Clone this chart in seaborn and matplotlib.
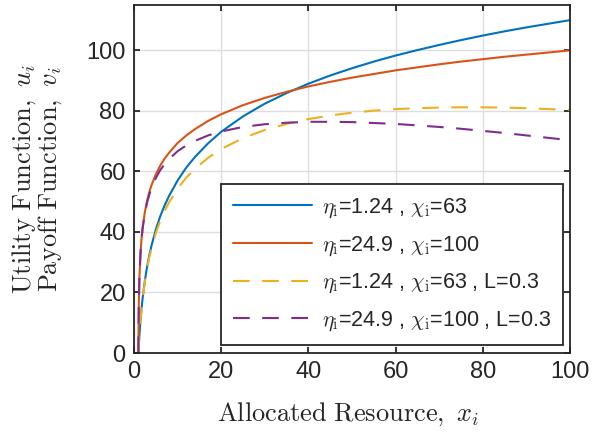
import numpy as np
import pandas as pd
import matplotlib
matplotlib.use("Agg")
import matplotlib.pyplot as plt
import seaborn as sns

# ---- data ----
x_vals = [1, 1.1, 1.25, 1.5, 1.75, 2, 2.5, 3, 3.5, 4, 5, 6, 7, 8, 10, 12, 14, 17,
          20, 25, 30, 35, 40, 45, 50, 55, 60, 65, 70, 75, 80, 85, 90, 95, 100]
u_eta124 = [0, 2.7, 6.2, 11.0, 15.0, 18.4, 24.0, 28.5, 32.2, 35.4, 40.8, 45.1, 48.7,
            51.8, 57.0, 61.3, 64.8, 69.3, 73.1, 78.2, 82.4, 85.9, 89.0, 91.7, 94.1,
            96.3, 98.3, 100.1, 101.8, 103.4, 104.9, 106.3, 107.6, 108.8, 110.0]
u_eta249 = [0, 16.0, 25.3, 33.3, 38.1, 41.7, 46.7, 50.3, 53.1, 55.4, 59.0, 61.9, 64.2,
            66.1, 69.4, 71.9, 74.0, 76.7, 78.9, 81.9, 84.3, 86.3, 88.1, 89.6, 91.0,
            92.2, 93.4, 94.4, 95.4, 96.3, 97.1, 97.9, 98.6, 99.3, 100.0]
v_eta124 = [0, 2.6, 6.1, 10.9, 14.8, 18.1, 23.5, 27.9, 31.5, 34.5, 39.6, 43.6, 46.9,
            49.7, 54.3, 58.0, 60.9, 64.5, 67.4, 71.0, 73.7, 75.7, 77.3, 78.5, 79.4,
            80.1, 80.6, 80.9, 81.1, 81.2, 81.2, 81.1, 80.9, 80.6, 80.3]
v_eta249 = [0, 16.0, 25.2, 33.1, 37.9, 41.4, 46.2, 49.7, 52.3, 54.5, 57.8, 60.4, 62.4,
            64.0, 66.7, 68.6, 70.1, 71.9, 73.2, 74.7, 75.6, 76.1, 76.4, 76.4, 76.3,
            76.0, 75.7, 75.2, 74.7, 74.1, 73.4, 72.7, 71.9, 71.1, 70.3]
series_labels = [r'$\eta_{\mathrm{i}}$=1.24 , $\chi_{\mathrm{i}}$=63',
                 r'$\eta_{\mathrm{i}}$=24.9 , $\chi_{\mathrm{i}}$=100',
                 r'$\eta_{\mathrm{i}}$=1.24 , $\chi_{\mathrm{i}}$=63 , L=0.3',
                 r'$\eta_{\mathrm{i}}$=24.9 , $\chi_{\mathrm{i}}$=100 , L=0.3']
x_ticks = [0, 20, 40, 60, 80, 100]
y_ticks = [0, 20, 40, 60, 80, 100]

colors = ['#0072BD', '#D95319', '#EDB120', '#7E2F8E']

sns.set_theme(style="ticks")
plt.rcParams['font.family'] = ['Liberation Sans', 'DejaVu Sans']
plt.rcParams['mathtext.fontset'] = 'cm'

fig = plt.figure(figsize=(5.93, 4.33), dpi=100)
ax = fig.add_axes([134/593, 1 - 353/433, 436/593, 348/433])

all_y = [u_eta124, u_eta249, v_eta124, v_eta249]
styles = ['-', '-', (0, (8, 6)), (0, (8, 6))]
for yv, lab, c, ls in zip(all_y, series_labels, colors, styles):
    df = pd.DataFrame({'x': x_vals, 'y': yv})
    sns.lineplot(data=df, x='x', y='y', ax=ax, color=c, linewidth=1.5,
                 linestyle=ls, label=lab, estimator=None, sort=False)

ax.set_xlim(0, 100)
ax.set_ylim(0, 115)
ax.set_xticks(x_ticks)
ax.set_yticks(y_ticks)
ax.grid(True, color='#dedede', linewidth=1.0)
ax.set_axisbelow(True)
for s in ax.spines.values():
    s.set_visible(True)
    s.set_color('#262626')
    s.set_linewidth(1.3)
ax.tick_params(direction='in', length=4, width=1.3, color='#262626',
               bottom=True, left=True, top=True, right=True,
               labelsize=17, labelcolor='#262626', pad=6)

ax.set_xlabel(r'$\mathrm{Allocated\ Resource,}\ x_i$', fontsize=19, color='#262626')
ax.xaxis.set_label_coords(0.49, -0.135)
ax.set_ylabel(r'$\mathrm{Utility\ Function,}\ u_i$' + '\n' + r'$\mathrm{Payoff\ Function,}\ v_i$',
              fontsize=19, color='#262626', linespacing=0.95)
ax.yaxis.set_label_coords(-0.16, 0.5)

leg = ax.legend(loc='lower right', bbox_to_anchor=(0.984, 0.023), borderaxespad=0,
                fontsize=15.5, frameon=True, fancybox=False, edgecolor='#262626',
                framealpha=1, handlelength=3.7, labelspacing=0.66, borderpad=0.55,
                handletextpad=0.45)
leg.get_frame().set_linewidth(1.3)

fig.savefig('out.png', dpi=100)
